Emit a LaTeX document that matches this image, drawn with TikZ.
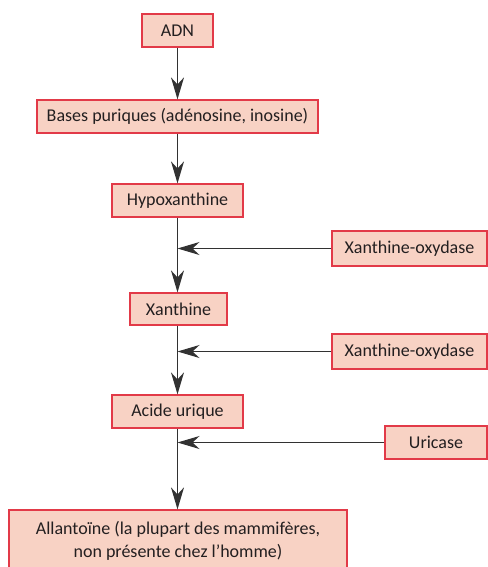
\documentclass[tikz,border=0pt]{standalone}
\usepackage{fontspec}
\setmainfont{Carlito}
\usetikzlibrary{arrows.meta}
\definecolor{boxfill}{RGB}{248,210,196}
\definecolor{boxline}{RGB}{226,58,72}
\definecolor{linecol}{RGB}{50,50,50}
\definecolor{txt}{RGB}{35,31,32}
\tikzset{
  box/.style={draw=boxline, fill=boxfill, line width=1.2pt, inner sep=0pt, font=\fontsize{18}{23}\selectfont, text=txt, align=center},
  flow/.style={draw=linecol, line width=1.3pt, -{Stealth[length=22pt,width=13pt,inset=7pt]}}
}
\begin{document}
\begin{tikzpicture}[x=1pt,y=-1pt]
\useasboundingbox (0,0) rectangle (487,567);
\node[box, minimum width=71pt, minimum height=33pt] (adn) at (177.5,30.5) {ADN};
\node[box, minimum width=281pt, minimum height=33pt] (bases) at (177.5,116.5) {Bases puriques (adénosine, inosine)};
\node[box, minimum width=131pt, minimum height=33pt] (hypo) at (177.5,200.5) {Hypoxanthine};
\node[box, minimum width=97pt, minimum height=32pt] (xan) at (178.5,309) {Xanthine};
\node[box, minimum width=131pt, minimum height=33pt] (acide) at (177.5,411.5) {Acide urique};
\node[box, minimum width=338pt, minimum height=62pt] (allan) at (178,541) {Allantoïne (la plupart des mammifères,\\non présente chez l’homme)};
\node[box, minimum width=155pt, minimum height=35pt] (xo1) at (409.5,248.5) {Xanthine-oxydase};
\node[box, minimum width=155pt, minimum height=35pt] (xo2) at (409.5,351.5) {Xanthine-oxydase};
\node[box, minimum width=102pt, minimum height=33pt] (uri) at (436,442.5) {Uricase};
\coordinate (j1) at (177.5,248.5);
\coordinate (j2) at (177.5,351.5);
\coordinate (j3) at (177.5,442.5);
\draw[flow] (adn.south) -- (bases.north);
\draw[flow] (bases.south) -- (hypo.north);
\draw[flow] (hypo.south) -- (hypo.south |- xan.north);
\draw[flow] (xan.south -| hypo.south) -- (acide.north);
\draw[flow] (acide.south) -- (acide.south |- allan.north);
\draw[flow] (xo1.west) -- (j1);
\draw[flow] (xo2.west) -- (j2);
\draw[flow] (uri.west) -- (j3);
\end{tikzpicture}
\end{document}
